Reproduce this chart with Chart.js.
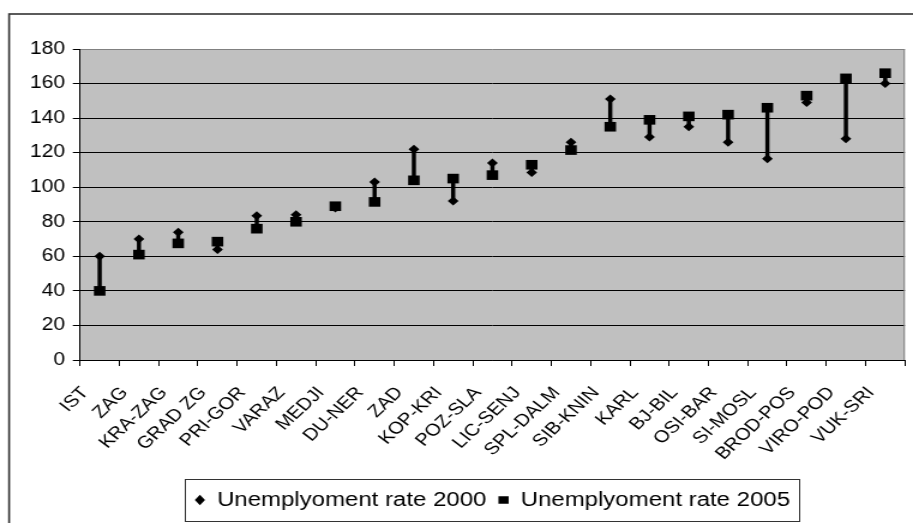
<!DOCTYPE html>
<html>
<head>
<meta charset="utf-8">
<script src="https://cdn.jsdelivr.net/npm/chart.js@4/dist/chart.umd.min.js"></script>
<style>
  html, body { margin: 0; padding: 0; background: #fff; overflow: hidden; }
  canvas { display: block; }
</style>
</head>
<body>
<!-- drawing buffer is narrower than the displayed box, so the chart is shown widened horizontally -->
<canvas id="chart" width="761" height="523" style="width:913px;height:523px"></canvas>
<script>
const regions = ['IST', 'ZAG', 'KRA-ZAG', 'GRAD ZG', 'PRI-GOR', 'VARAZ', 'MEDJI', 'DU-NER', 'ZAD',
  'KOP-KRI', 'POZ-SLA', 'LIC-SENJ', 'SPL-DALM', 'SIB-KNIN', 'KARL', 'BJ-BIL', 'OSI-BAR',
  'SI-MOSL', 'BROD-POS', 'VIRO-POD', 'VUK-SRI'];
const rate2000 = [60, 70, 74, 64, 83.5, 84, 88, 103, 122, 92, 114, 108.5, 126, 151, 129, 135, 126, 116.5, 149, 128, 160];
const rate2005 = [40, 61, 67.5, 68.5, 76, 80, 89, 91.5, 104, 105, 107, 113, 121.5, 135, 139, 141, 142, 146, 153, 163, 166];
const label2000 = 'Unemplyoment rate 2000';
const label2005 = 'Unemplyoment rate 2005';
const yMin = 0;
const yMax = 180;
const yStep = 20;

// vertical connector between the two years for each region
const changeRange = rate2000.map((v, i) => [v, rate2005[i]]);

const FONT = 'Liberation Sans, Arial, Helvetica, sans-serif';

const framePlugin = {
  id: 'frame',
  beforeDraw(chart) {
    const { ctx, chartArea: a } = chart;
    ctx.save();
    ctx.fillStyle = '#ffffff';
    ctx.fillRect(0, 0, chart.width, chart.height);
    ctx.fillStyle = '#c0c0c0';
    ctx.fillRect(a.left, a.top, a.right - a.left, a.bottom - a.top);
    ctx.strokeStyle = '#333333';
    ctx.lineWidth = 1.6;
    ctx.strokeRect(7.6, 14, chart.width + 20, chart.height + 20);
    ctx.restore();
  },
  beforeDatasetsDraw(chart) {
    const { ctx, chartArea: a } = chart;
    ctx.save();
    ctx.strokeStyle = '#808080';
    ctx.lineWidth = 1;
    ctx.beginPath();
    ctx.moveTo(a.right - 0.5, a.top);
    ctx.lineTo(a.right - 0.5, a.bottom);
    ctx.stroke();
    ctx.restore();
  },
  afterDraw(chart) {
    const lg = chart.legend;
    if (!lg || !lg.legendHitBoxes || !lg.legendHitBoxes.length) return;
    const hb = lg.legendHitBoxes;
    const first = hb[0];
    const last = hb[hb.length - 1];
    const cy = first.top + first.height / 2;
    const ctx = chart.ctx;
    ctx.save();
    ctx.strokeStyle = '#333333';
    ctx.lineWidth = 1;
    const left = Math.round(first.left - 8) + 0.5;
    const right = Math.round(last.left + last.width + 7) + 0.5;
    ctx.strokeRect(left, Math.round(cy - 21) + 0.5, right - left, 42);
    ctx.restore();
  }
};

new Chart(document.getElementById('chart'), {
  type: 'bar',
  data: {
    labels: regions,
    datasets: [
      {
        type: 'bar',
        label: 'change',
        data: changeRange,
        backgroundColor: '#000000',
        borderWidth: 0,
        barThickness: 2.8,
        order: 3
      },
      {
        type: 'line',
        label: label2000,
        data: rate2000,
        showLine: false,
        pointStyle: 'rectRot',
        pointRadius: 4.5,
        pointBorderWidth: 0,
        backgroundColor: '#000000',
        borderColor: '#000000',
        borderWidth: 0,
        order: 2
      },
      {
        type: 'line',
        label: label2005,
        data: rate2005,
        showLine: false,
        pointStyle: 'rect',
        pointRadius: 6.8,
        pointBorderWidth: 0,
        backgroundColor: '#000000',
        borderColor: '#000000',
        borderWidth: 0,
        order: 1
      }
    ]
  },
  options: {
    responsive: false,
    maintainAspectRatio: false,
    devicePixelRatio: 1,
    animation: false,
    events: [],
    layout: { padding: { left: 0, right: 2.5, top: 49, bottom: 3 } },
    scales: {
      x: {
        offset: true,
        grid: {
          offset: true,
          drawOnChartArea: false,
          drawTicks: true,
          tickLength: 6,
          tickColor: '#000000',
          color: '#000000'
        },
        border: { color: '#000000', width: 1 },
        ticks: {
          autoSkip: false,
          minRotation: 48,
          maxRotation: 48,
          padding: 17,
          labelOffset: -12,
          color: '#000000',
          font: { family: FONT, size: 17 }
        },
        afterFit(scale) {
          scale.height = 120;
          // the rotated labels fit under the plot, so no side padding is needed
          scale.paddingLeft = 0;
          scale.paddingRight = 0;
        }
      },
      y: {
        min: yMin,
        max: yMax,
        ticks: {
          stepSize: yStep,
          padding: 6.5,
          color: '#000000',
          font: { family: FONT, size: 17.5 }
        },
        grid: {
          color: (c) => (c.tick && c.tick.value === yMax ? '#808080' : '#000000'),
          tickColor: '#000000',
          tickLength: 6,
          lineWidth: 1
        },
        border: { color: '#000000', width: 1 },
        afterFit(scale) { scale.width = 66.7; }
      }
    },
    plugins: {
      tooltip: { enabled: false },
      legend: {
        position: 'bottom',
        fullSize: false,
        labels: {
          usePointStyle: true,
          pointStyleWidth: 8.5,
          boxHeight: 7.5,
          padding: 10,
          color: '#000000',
          font: { family: FONT, size: 20 },
          filter: (item) => item.datasetIndex > 0,
          sort: (a, b) => a.datasetIndex - b.datasetIndex
        }
      }
    }
  },
  plugins: [framePlugin]
});
</script>
</body>
</html>
